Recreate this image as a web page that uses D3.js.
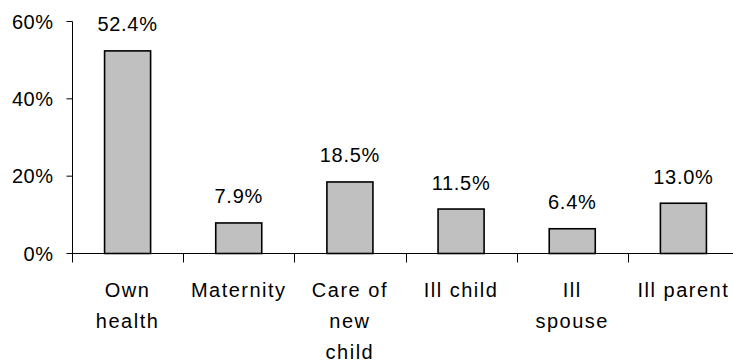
<!DOCTYPE html>
<html>
<head>
<meta charset="utf-8">
<script src="https://cdn.jsdelivr.net/npm/d3@7"></script>
<style>
  html, body { margin: 0; padding: 0; background: #fff; overflow: hidden; }
  svg { display: block; }
  text { font-family: "Liberation Sans", Arial, sans-serif; fill: #000; }
</style>
</head>
<body>
<svg id="chart" width="733" height="362"></svg>
<script>
// Reasons for leave, share of respondents
const labelLines = [
  ["Own", "health"],
  ["Maternity"],
  ["Care of", "new", "child"],
  ["Ill child"],
  ["Ill", "spouse"],
  ["Ill parent"]
];
const categories = labelLines.map(l => l.join(" "));
const values = [52.4, 7.9, 18.5, 11.5, 6.4, 13.0];
const yTicks = [0, 20, 40, 60];
const yTickLabels = ["0%", "20%", "40%", "60%"];

const svg = d3.select("#chart");
const fontSize = 20;

const x = d3.scaleBand()
  .domain(categories)
  .range([72, 739])
  .paddingInner(0.586)
  .paddingOuter(0.293);

const y = d3.scaleLinear()
  .domain([0, 60])
  .range([253.5, 21.5]);

// Y axis
const yAxis = svg.append("g").attr("transform", "translate(72.5,0)");
yAxis.append("line")
  .attr("x1", 0).attr("x2", 0)
  .attr("y1", y(60)).attr("y2", y(0) + 9)
  .attr("stroke", "#000").attr("stroke-width", 1);
yAxis.selectAll("line.tick")
  .data(yTicks)
  .join("line")
  .attr("class", "tick")
  .attr("x1", -6).attr("x2", 0)
  .attr("y1", d => y(d)).attr("y2", d => y(d))
  .attr("stroke", "#000").attr("stroke-width", 1);
yAxis.selectAll("text")
  .data(yTicks)
  .join("text")
  .attr("x", -19)
  .attr("y", d => y(d) + 7)
  .attr("text-anchor", "end")
  .attr("font-size", fontSize)
  .attr("letter-spacing", 0.5)
  .text((d, i) => yTickLabels[i]);

// X axis
svg.append("line")
  .attr("x1", 72).attr("x2", 740)
  .attr("y1", y(0)).attr("y2", y(0))
  .attr("stroke", "#000").attr("stroke-width", 1);
svg.selectAll("line.xtick")
  .data(d3.range(1, categories.length + 1))
  .join("line")
  .attr("class", "xtick")
  .attr("x1", i => Math.round(x.range()[0] + i * x.step()) + 0.5)
  .attr("x2", i => Math.round(x.range()[0] + i * x.step()) + 0.5)
  .attr("y1", y(0)).attr("y2", y(0) + 9)
  .attr("stroke", "#000").attr("stroke-width", 1);

// Bars
svg.selectAll("rect.bar")
  .data(values)
  .join("rect")
  .attr("class", "bar")
  .attr("x", (d, i) => x(categories[i]))
  .attr("width", x.bandwidth())
  .attr("y", d => y(d))
  .attr("height", d => y(0) - y(d))
  .attr("fill", "#c0c0c0")
  .attr("stroke", "#000")
  .attr("stroke-width", 1.6);

// Value labels
svg.selectAll("text.value")
  .data(values)
  .join("text")
  .attr("class", "value")
  .attr("x", (d, i) => x(categories[i]) + x.bandwidth() / 2)
  .attr("y", d => y(d) - 19.5)
  .attr("text-anchor", "middle")
  .attr("font-size", fontSize)
  .attr("letter-spacing", 0.7)
  .text(d => d.toFixed(1) + "%");

// Category labels, one tspan per line
const cat = svg.selectAll("text.cat")
  .data(labelLines)
  .join("text")
  .attr("class", "cat")
  .attr("text-anchor", "middle")
  .attr("font-size", fontSize)
  .attr("letter-spacing", 1.5);
cat.selectAll("tspan")
  .data((lines, i) => lines.map(t => ({ t, cx: x(categories[i]) + x.bandwidth() / 2 })))
  .join("tspan")
  .attr("x", d => d.cx)
  .attr("y", (d, j) => 297 + j * 31)
  .text(d => d.t);
</script>
</body>
</html>
